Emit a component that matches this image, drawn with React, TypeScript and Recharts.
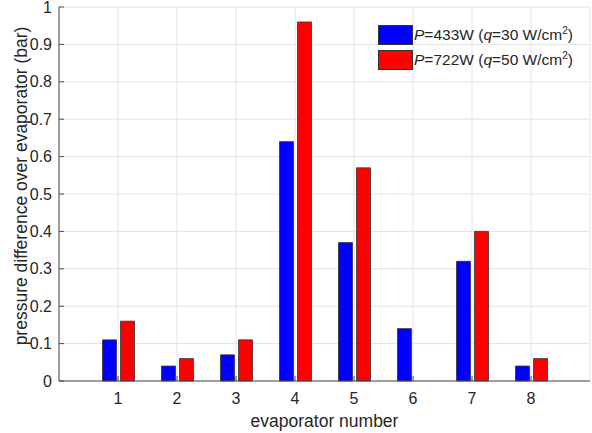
import { BarChart, Bar, CartesianGrid, XAxis, YAxis, Label } from "recharts";

const categories = ["1", "2", "3", "4", "5", "6", "7", "8"];
const p433 = [0.11, 0.04, 0.07, 0.64, 0.37, 0.14, 0.32, 0.04];
const p722 = [0.16, 0.06, 0.11, 0.96, 0.57, null, 0.4, 0.06];
const yTicks = [0, 0.1, 0.2, 0.3, 0.4, 0.5, 0.6, 0.7, 0.8, 0.9, 1];
const yTickLabels = ["0", "0.1", "0.2", "0.3", "0.4", "0.5", "0.6", "0.7", "0.8", "0.9", "1"];

const series = [
    { key: "p433", color: "#0000ff", power: "433W", flux: "30" },
    { key: "p722", color: "#ff0000", power: "722W", flux: "50" },
];

const data = categories.map((name, i) => ({ name, p433: p433[i], p722: p722[i] }));

const FONT = "'Liberation Sans', Arial, sans-serif";
const TEXT = "#262626";
const AXIS = "#4a4a4a";

const BottomTick = ({ x, y, payload }: any) => (
    <g>
        <line x1={x} x2={x} y1={y} y2={y - 5} stroke={AXIS} />
        <text x={x} y={y + 17} textAnchor="middle" dominantBaseline="central" fontSize={16} fill={TEXT} fontFamily={FONT}>
            {payload.value}
        </text>
    </g>
);

const TopTick = ({ x, y }: any) => <line x1={x} x2={x} y1={y} y2={y + 5} stroke={AXIS} />;

const LeftTick = ({ x, y, payload }: any) => (
    <g>
        <line x1={x} x2={x + 5} y1={y} y2={y} stroke={AXIS} />
        <text x={x - 7} y={y} textAnchor="end" dominantBaseline="central" fontSize={16} fill={TEXT} fontFamily={FONT}>
            {yTickLabels[yTicks.indexOf(payload.value)] ?? payload.value}
        </text>
    </g>
);

const RightTick = ({ x, y }: any) => <line x1={x} x2={x - 5} y1={y} y2={y} stroke={AXIS} />;

const Legend = () => (
    <div style={{ position: "absolute", left: 378, top: 22, fontFamily: FONT, fontSize: 15.5, color: TEXT }}>
        {series.map((s) => (
            <div key={s.key} style={{ display: "flex", alignItems: "center", height: 25, whiteSpace: "nowrap" }}>
                <div style={{ width: 33, height: 18, background: s.color, border: "1px solid #333", marginRight: 1 }} />
                <span>
                    <i>P</i>={s.power} (<i>q</i>={s.flux} W/cm<sup style={{ fontSize: "0.65em" }}>2</sup>)
                </span>
            </div>
        ))}
    </div>
);

export default function App() {
    return (
        <div style={{ position: "absolute", left: 0, top: 0, width: 592, height: 433, background: "#fff" }}>
            <BarChart
                width={592}
                height={433}
                data={data}
                margin={{ top: 7, right: 2, left: 0, bottom: 0 }}
                barSize={14}
                barGap={4}
            >
                <CartesianGrid stroke="#e3e3e3" xAxisId="0" yAxisId="0" />
                <XAxis
                    dataKey="name"
                    xAxisId="0"
                    height={52}
                    padding={{ left: 29.5, right: 29.5 }}
                    tickLine={false}
                    tickSize={0}
                    tickMargin={0}
                    stroke={AXIS}
                    tick={<BottomTick />}
                    interval={0}
                >
                    <Label
                        content={({ viewBox }: any) => (
                            <text x={viewBox.x + viewBox.width / 2} y={421} textAnchor="middle" dominantBaseline="central" fontSize={17.5} fill={TEXT} fontFamily={FONT}>
                                evaporator number
                            </text>
                        )}
                    />
                </XAxis>
                <XAxis
                    dataKey="name"
                    xAxisId="top"
                    orientation="top"
                    height={0}
                    padding={{ left: 29.5, right: 29.5 }}
                    tickLine={false}
                    tickSize={0}
                    tickMargin={0}
                    stroke={AXIS}
                    tick={<TopTick />}
                    interval={0}
                />
                <YAxis
                    yAxisId="0"
                    width={59}
                    domain={[0, 1]}
                    ticks={yTicks}
                    tickLine={false}
                    tickSize={0}
                    tickMargin={0}
                    stroke={AXIS}
                    tick={<LeftTick />}
                    interval={0}
                >
                    <Label
                        content={({ viewBox }: any) => {
                            const cx = 21;
                            const cy = 186;
                            return (
                                <text x={cx} y={cy} transform={`rotate(-90, ${cx}, ${cy})`} textAnchor="middle" dominantBaseline="central" fontSize={17.5} fill={TEXT} fontFamily={FONT}>
                                    pressure difference over evaporator (bar)
                                </text>
                            );
                        }}
                    />
                </YAxis>
                <YAxis
                    yAxisId="right"
                    orientation="right"
                    width={0}
                    domain={[0, 1]}
                    ticks={yTicks}
                    tickLine={false}
                    tickSize={0}
                    tickMargin={0}
                    stroke={AXIS}
                    tick={<RightTick />}
                    interval={0}
                />
                {series.map((s) => (
                    <Bar
                        key={s.key}
                        dataKey={s.key}
                        xAxisId="0"
                        yAxisId="0"
                        fill={s.color}
                        stroke="#333"
                        strokeWidth={0.8}
                        isAnimationActive={false}
                    />
                ))}
            </BarChart>
            <Legend />
        </div>
    );
}
